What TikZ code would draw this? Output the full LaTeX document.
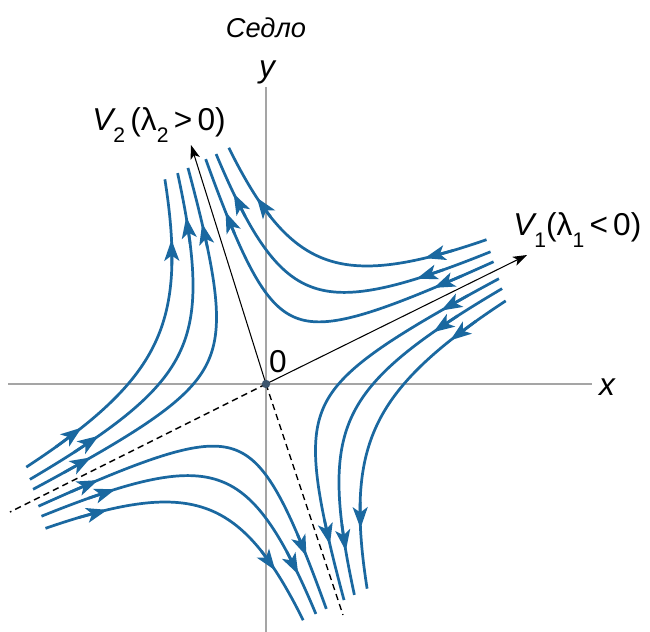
\documentclass[tikz,border=0pt]{standalone}
\usepackage{fontspec}
\setmainfont{Liberation Sans}
\usetikzlibrary{arrows.meta}
\definecolor{flowblue}{RGB}{26,104,160}
\definecolor{axisgray}{RGB}{165,165,165}
\definecolor{dotcol}{RGB}{60,85,110}
\newcommand\lsub[1]{\raisebox{-7pt}{\fontsize{12}{12}\selectfont #1}}
\begin{document}
\begin{tikzpicture}[x=0.02cm,y=-0.02cm,
  flow/.style={draw=flowblue, line width=1.55pt},
  flowtip/.style={draw=flowblue, fill=flowblue, line width=1.55pt, -{Stealth[length=12pt,width=8.5pt,inset=3pt]}},
  axisline/.style={draw=axisgray, line width=0.6pt},
  evec/.style={draw=black, line width=0.6pt, -{Stealth[length=8pt,width=5.5pt,inset=2pt]}},
  evback/.style={draw=black, line width=0.8pt, dash pattern=on 3.6pt off 2.4pt},
  lab/.style={font=\fontsize{18}{20}\selectfont, inner sep=0pt},
  titlelab/.style={font=\fontsize{15.5}{17}\selectfont\itshape, inner sep=0pt},
]
\fill[white] (0,0) rectangle (650,632);
\useasboundingbox (0,0) rectangle (650,632);

% key points
\coordinate (O) at (266,384);
\coordinate (xL) at (8,384);
\coordinate (xR) at (592,384);
\coordinate (yT) at (266,87);
\coordinate (yB) at (266,632);
\coordinate (V1tip) at (527,255);
\coordinate (V2tip) at (191,145);
\coordinate (V1back) at (10,512);
\coordinate (V2back) at (343,615);

% axes
\draw[axisline] (xL) -- (xR);
\draw[axisline] (yT) -- (yB);

% eigen directions
\draw[evback] (O) -- (V1back);
\draw[evback] (O) -- (V2back);
\draw[evec] (O) -- (V1tip);
\draw[evec] (O) -- (V2tip);

% trajectories in eigen coordinates (u along V1, v along V2)
\begin{scope}[shift={(O)}, x={(0.5083pt,0.2512pt)}, y={(-0.1697pt,0.5409pt)}]
\foreach \su/\sv in {1/1,-1/1,-1/-1,1/-1}{
  \foreach \c/\ua/\vb in {2300/192/175,5000/178/188,8300/192/174}{
    \pgfmathsetmacro\s{sqrt(\c)}
    \pgfmathsetmacro\ta{ln(258/\s)}
    \pgfmathsetmacro\tb{-ln(232/\s)}
    \pgfmathsetmacro\va{\c/\ua}
    \pgfmathsetmacro\ub{\c/\vb}
    \draw[flow] plot[domain=\tb:\ta, samples=80, smooth, variable=\t]
      ({\su*\s*exp(\t)},{\sv*\s*exp(-\t)});
    \draw[flowtip] ({\su*\ua*1.16},{\sv*\va*0.862}) -- ({\su*\ua},{\sv*\va});
    \draw[flowtip] ({\su*\ub*1.16},{\sv*\vb*0.862}) -- ({\su*\ub},{\sv*\vb});
  }
}
\end{scope}

% origin
\fill[dotcol] (O) circle[radius=2.4pt];

% labels
\node[titlelab, anchor=base] (sedlo) at (266,37) {Седло};
\node[lab, anchor=base] (ylab) at (267,77) {\itshape y};
\node[lab, anchor=base] (xlab) at (607,395) {\itshape x};
\node[lab, anchor=base] (zero) at (278,372) {0};
\node[lab, anchor=base west] (v1lab) at (513,235) {{\itshape V}\lsub{1}(λ\lsub{1}\,<\,0)};
\node[lab, anchor=base west] (v2lab) at (92,130) {{\itshape V}\lsub{2}\,(λ\lsub{2}\,>\,0)};
\end{tikzpicture}
\end{document}
